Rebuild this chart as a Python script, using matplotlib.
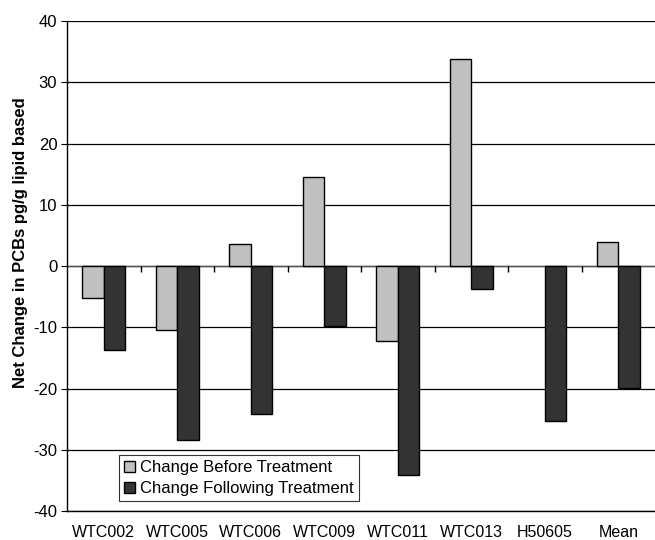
import numpy as np
import matplotlib.pyplot as plt

plt.rcParams['font.family'] = ['Liberation Sans', 'DejaVu Sans']
plt.rcParams['axes.unicode_minus'] = False

samples = ['WTC002', 'WTC005', 'WTC006', 'WTC009', 'WTC011', 'WTC013', 'H50605', 'Mean']
before = [-5.3, -10.5, 3.6, 14.5, -12.3, 33.8, 0.0, 3.9]
following = [-13.7, -28.4, -24.2, -9.8, -34.1, -3.8, -25.3, -19.9]

fig = plt.figure(figsize=(6.55, 5.4), dpi=100)
ax = fig.add_axes([0.1023, 0.0537, 0.8977, 0.9074])

x = np.arange(len(samples))
w = 0.29
b1 = ax.bar(x - w / 2, before, w, color='#c0c0c0', edgecolor='black', linewidth=1,
            label='Change Before Treatment', zorder=3)
ax.bar(x + w / 2, following, w, color='#333333', edgecolor='black', linewidth=1,
       label='Change Following Treatment', zorder=3)
# a zero-height bar draws nothing in the original
for rect, v in zip(b1, before):
    if v == 0:
        rect.set_visible(False)

ax.set_xlim(-0.5, len(samples) - 0.5)
ax.set_ylim(-40, 40)
ax.set_yticks(range(-40, 41, 10))
ax.yaxis.grid(True, color='black', linewidth=0.9)
ax.set_axisbelow(True)

# zero line with small category ticks
ax.axhline(0, color='#555555', linewidth=1, zorder=2)
ax.vlines(np.arange(0.5, len(samples) - 0.5), -0.9, 0, color='black', linewidth=1, zorder=2)

ax.set_xticks(x)
ax.set_xticklabels(samples, fontsize=11.5)
ax.tick_params(axis='x', length=0, pad=10)
ax.tick_params(axis='y', labelsize=12, length=4, direction='out', pad=3)

for s in ['top', 'right']:
    ax.spines[s].set_visible(False)
ax.spines['left'].set_linewidth(1)
ax.spines['bottom'].set_linewidth(1)

ax.set_ylabel('Net Change in PCBs pg/g lipid based', fontsize=12, fontweight='bold')
ax.yaxis.set_label_coords(-0.066, 0.547)

leg = ax.legend(loc='lower left', bbox_to_anchor=(0.088, 0.02), fontsize=12,
                frameon=True, fancybox=False, edgecolor='black', handlelength=0.7,
                handleheight=0.7, handletextpad=0.3, borderpad=0.3, labelspacing=0.35,
                borderaxespad=0)
leg.get_frame().set_linewidth(0.8)

fig.savefig('out.png', dpi=100)
